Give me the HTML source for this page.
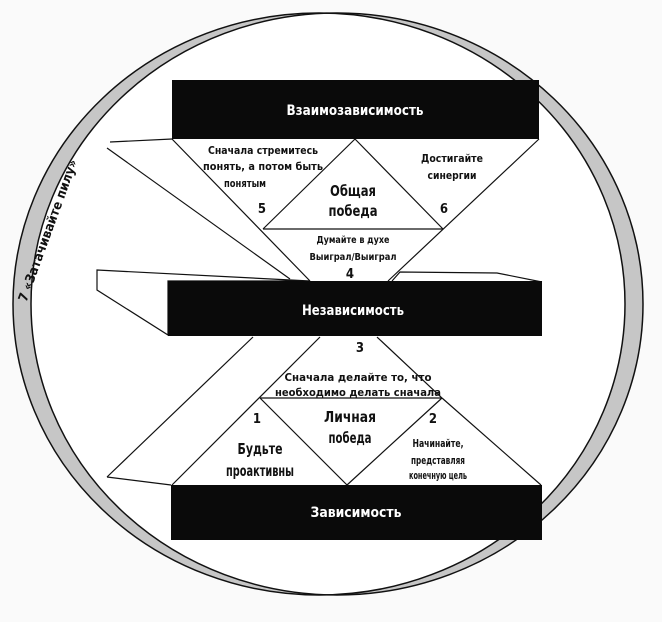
<!DOCTYPE html>
<html><head><meta charset="utf-8"><style>
html,body{margin:0;padding:0;background:#fafafa;}
svg{display:block}
text{font-family:"DejaVu Sans Condensed","DejaVu Sans","Liberation Sans",sans-serif;font-weight:bold;text-anchor:middle;}
</style></head><body>
<svg width="662" height="622" viewBox="0 0 662 622" xmlns="http://www.w3.org/2000/svg">
<defs>
<clipPath id="cA"><ellipse cx="319" cy="304" rx="306" ry="291"/></clipPath>
</defs>
<ellipse cx="319" cy="304" rx="306" ry="291" fill="#c6c6c6"/>
<ellipse cx="337" cy="304" rx="306" ry="291" fill="#c6c6c6"/>
<ellipse cx="337" cy="304" rx="306" ry="291" fill="#fff" clip-path="url(#cA)"/>
<ellipse cx="319" cy="304" rx="306" ry="291" fill="none" stroke="#111" stroke-width="1.5"/>
<ellipse cx="337" cy="304" rx="306" ry="291" fill="none" stroke="#111" stroke-width="1.5"/>

<text transform="translate(52,232) rotate(-70)" font-size="13" fill="#111" textLength="150" lengthAdjust="spacingAndGlyphs">7 «Затачивайте пилу»</text>

<g stroke="#111" stroke-width="1.2" fill="none">
<line x1="172" y1="139" x2="310" y2="281"/>
<line x1="539" y1="139" x2="388" y2="281"/>
<line x1="355" y1="139" x2="263" y2="229"/>
<line x1="355" y1="139" x2="443" y2="229"/>
<line x1="263" y1="229" x2="443" y2="229"/>
<line x1="107" y1="148" x2="290" y2="279"/>
<line x1="110" y1="142" x2="172" y2="139"/>
<polygon points="97,270 310,281 168,281 168,335 97,290" fill="#fff"/>
<polyline points="392,281 400,272 497,273 542,282"/>
<line x1="253" y1="337" x2="107" y2="477"/>
<line x1="107" y1="477" x2="171" y2="485"/>
<line x1="320" y1="337" x2="172" y2="485"/>
<line x1="377" y1="337" x2="442" y2="398"/>
<line x1="442" y1="398" x2="541" y2="485"/>
<line x1="260" y1="398" x2="442" y2="398"/>
<line x1="260" y1="398" x2="347" y2="485"/>
<line x1="442" y1="398" x2="347" y2="485"/>
</g>

<rect x="172" y="80" width="367" height="59" fill="#0a0a0a"/>
<rect x="168" y="281" width="374" height="55" fill="#0a0a0a"/>
<rect x="171" y="485" width="371" height="55" fill="#0a0a0a"/>

<g fill="#fff">
<text x="355" y="115" font-size="14" textLength="137" lengthAdjust="spacingAndGlyphs">Взаимозависимость</text>
<text x="353" y="315" font-size="14" textLength="102" lengthAdjust="spacingAndGlyphs">Независимость</text>
<text x="356" y="517" font-size="14" textLength="91" lengthAdjust="spacingAndGlyphs">Зависимость</text>
</g>

<g fill="#111">
<text x="263" y="154" font-size="10.5" textLength="110" lengthAdjust="spacingAndGlyphs">Сначала стремитесь</text>
<text x="263" y="170" font-size="10.5" textLength="120" lengthAdjust="spacingAndGlyphs">понять, а потом быть</text>
<text x="245" y="187" font-size="10.5" textLength="42" lengthAdjust="spacingAndGlyphs">понятым</text>
<text x="262" y="213" font-size="13">5</text>
<text x="353" y="196" font-size="15.5" textLength="46" lengthAdjust="spacingAndGlyphs">Общая</text>
<text x="353" y="216" font-size="15.5" textLength="49" lengthAdjust="spacingAndGlyphs">победа</text>
<text x="452" y="162" font-size="10.5" textLength="62" lengthAdjust="spacingAndGlyphs">Достигайте</text>
<text x="452" y="179" font-size="10.5" textLength="49" lengthAdjust="spacingAndGlyphs">синергии</text>
<text x="444" y="213" font-size="13">6</text>
<text x="353" y="243" font-size="10" textLength="73" lengthAdjust="spacingAndGlyphs">Думайте в духе</text>
<text x="353" y="260" font-size="10" textLength="87" lengthAdjust="spacingAndGlyphs">Выиграл/Выиграл</text>
<text x="350" y="278" font-size="13">4</text>

<text x="360" y="352" font-size="13">3</text>
<text x="358" y="381" font-size="11" textLength="147" lengthAdjust="spacingAndGlyphs">Сначала делайте то, что</text>
<text x="358" y="396" font-size="11" textLength="166" lengthAdjust="spacingAndGlyphs">необходимо делать сначала</text>
<text x="257" y="423" font-size="13">1</text>
<text x="350" y="422" font-size="15.5" textLength="52" lengthAdjust="spacingAndGlyphs">Личная</text>
<text x="350" y="443" font-size="15.5" textLength="43" lengthAdjust="spacingAndGlyphs">победа</text>
<text x="260" y="454" font-size="15.5" textLength="45" lengthAdjust="spacingAndGlyphs">Будьте</text>
<text x="260" y="476" font-size="15.5" textLength="68" lengthAdjust="spacingAndGlyphs">проактивны</text>
<text x="433" y="423" font-size="13">2</text>
<text x="438" y="447" font-size="10.5" textLength="51" lengthAdjust="spacingAndGlyphs">Начинайте,</text>
<text x="438" y="464" font-size="10.5" textLength="54" lengthAdjust="spacingAndGlyphs">представляя</text>
<text x="438" y="479" font-size="10.5" textLength="58" lengthAdjust="spacingAndGlyphs">конечную цель</text>
</g>
</svg>
</body></html>
